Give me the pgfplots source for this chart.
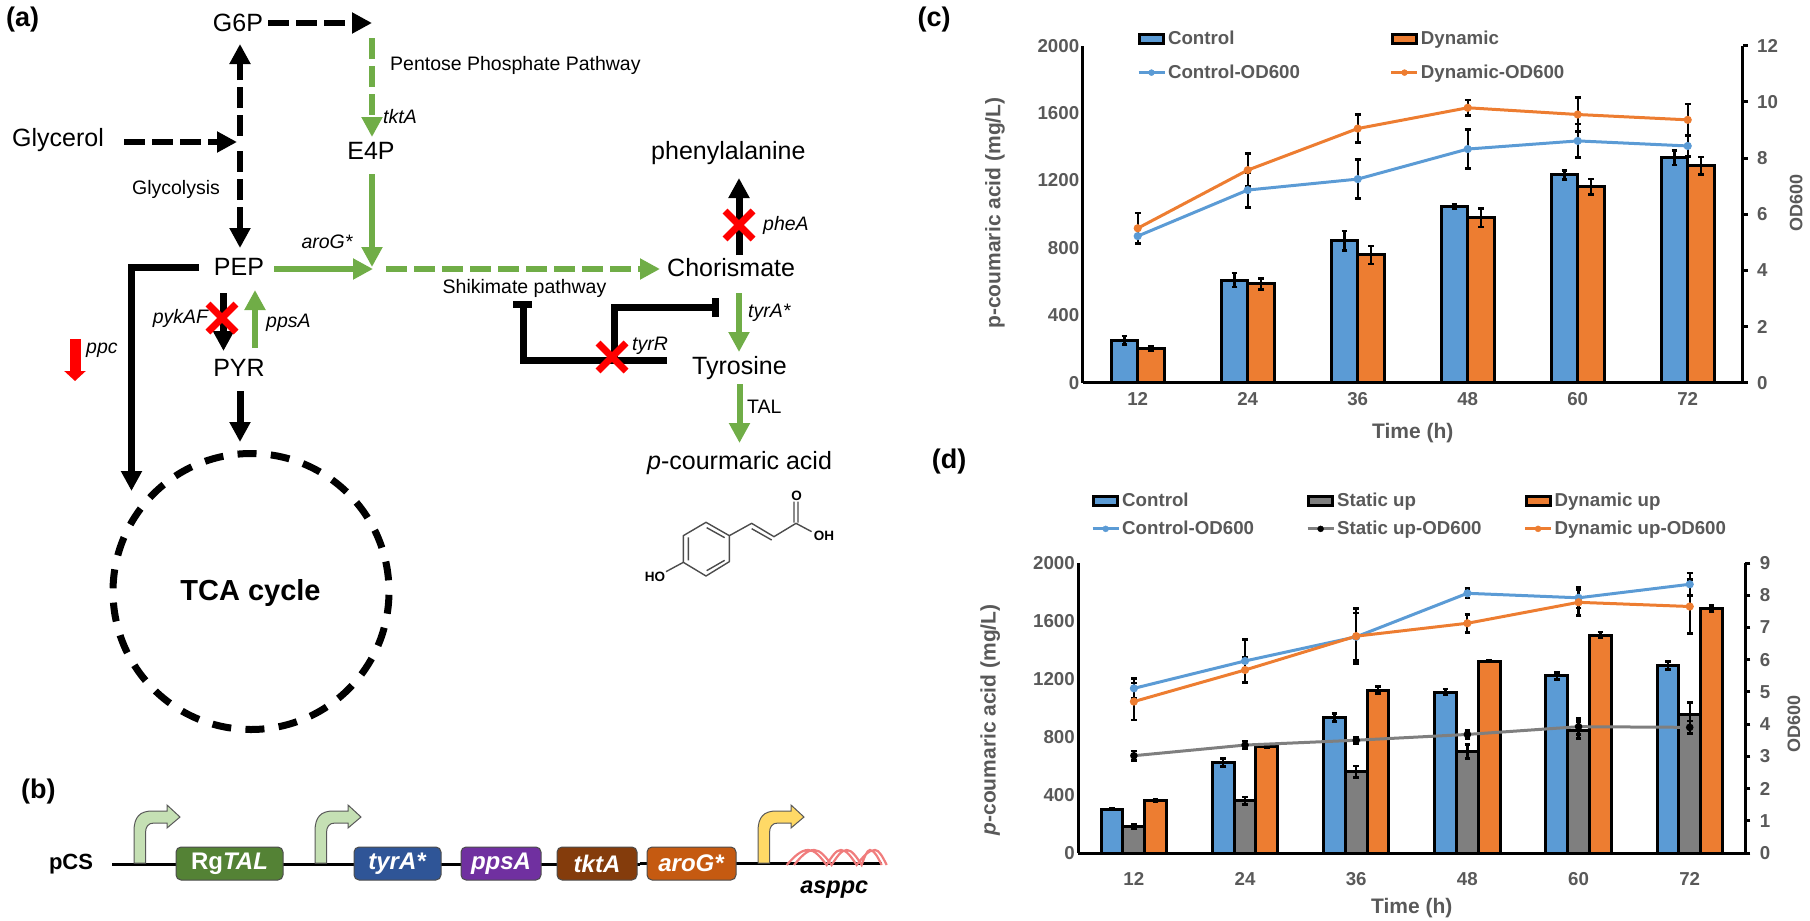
\documentclass[border=0pt]{standalone}
\usepackage{fontspec}
\setmainfont{Liberation Sans}
\usepackage{pgfplots}
\usepackage{pgfplotstable}
\pgfplotsset{compat=1.18}
\usetikzlibrary{arrows.meta}

\definecolor{ctl}{HTML}{5B9BD5}
\definecolor{dyn}{HTML}{ED7D31}
\definecolor{stat}{HTML}{7F7F7F}
\definecolor{txt}{HTML}{595959}
\definecolor{pgreen}{HTML}{70AD47}
\definecolor{gtal}{HTML}{548235}
\definecolor{gtyr}{HTML}{2F5597}
\definecolor{gpps}{HTML}{7030A0}
\definecolor{gtkt}{HTML}{843C0C}
\definecolor{garo}{HTML}{C55A11}
\definecolor{plight}{HTML}{C5E0B4}
\definecolor{pyell}{HTML}{FFD966}
\definecolor{dna}{HTML}{F07C7C}

\newcommand\fa{\fontsize{25}{28}\selectfont}
\newcommand\fb{\fontsize{19.5}{22}\selectfont}
\newcommand\fc{\fontsize{18.7}{22}\selectfont\bfseries}
\newcommand\fl{\fontsize{21}{24}\selectfont\bfseries}

% panel (c): time point, titer and sd, OD600 and sd
\pgfplotstableread{
x ctl ctle dyn dyne ctlod ctlode dynod dynode
0 253 25 204 15 5.22 0.24 5.50 0.55
1 609 42 586 33 6.86 0.62 7.57 0.59
2 843 57 758 53 7.25 0.69 9.05 0.49
3 1045 15 979 54 8.32 0.70 9.79 0.28
4 1233 27 1163 46 8.61 0.60 9.55 0.60
5 1335 43 1288 52 8.43 0.37 9.36 0.56
}\cdata

% panel (d)
\pgfplotstableread{
x ctl ctle sta stae dyn dyne ctlod ctlode staod staode dynod dynode
0 301 5 186 15 365 8 5.11 0.31 3.02 0.15 4.70 0.57
1 625 28 361 25 738 10 5.96 0.67 3.35 0.12 5.68 0.39
2 936 28 561 40 1124 24 6.71 0.74 3.50 0.10 6.73 0.85
3 1110 20 699 48 1324 8 8.06 0.14 3.68 0.13 7.13 0.28
4 1221 24 848 60 1503 20 7.92 0.32 3.92 0.25 7.78 0.40
5 1294 28 956 83 1687 20 8.34 0.35 3.90 0.20 7.65 0.83
}\ddata

\pgfplotsset{
  base/.style={
    scale only axis, clip=false, anchor=south west,
    xmin=-0.5, xmax=5.5, ymin=0,
    xtick={0,...,5}, xticklabels={12,24,36,48,60,72},
    major tick length=0pt,
    axis line style={black, line width=3pt},
    every tick/.style={black, line width=3pt},
    tick label style={font=\fc, text=txt, /pgf/number format/assume math mode=true, /pgf/number format/1000 sep={}},
    label style={font=\fl, text=txt},
    scaled y ticks=false,
    xticklabel style={yshift=-6pt},
  },
  rightax/.style={
    axis y line*=right, axis x line=none,
    major tick length=5pt, tick align=outside,
    yticklabel style={xshift=6pt},
    label style={font=\fontsize{18}{20}\selectfont\bfseries, text=txt},
  },
  barerr/.style={error bars/.cd, y dir=both, y explicit, error mark=|,
    error bar style={black, line width=2.4pt},
    error mark options={black, solid, mark size=2.8pt, line width=2.6pt}},
  lineerr/.style={error bars/.cd, y dir=both, y explicit, error mark=|,
    error bar style={black, line width=2.2pt},
    error mark options={black, solid, mark size=2.8pt, line width=2.6pt}},
  swatch/.style={legend image code/.code={
    \draw[draw=black, line width=3pt, fill=#1] (0pt,-4.5pt) rectangle (24pt,4.5pt);}},
  lineimg/.style 2 args={legend image code/.code={
    \draw[draw=#1, line width=3pt] (-1pt,0pt) -- (25pt,0pt);
    \fill[#2] (12pt,0pt) circle (3pt);}},
}

\tikzset{
  ar/.style={line width=6pt, -{Triangle[length=20pt,width=20pt]}},
  bk/.style={line width=7pt, line cap=butt},
  dsh/.style={dash pattern=on 21pt off 7pt},
  lab/.style={inner sep=0pt, text=black},
}

\newcommand\redx[2]{\begin{scope}[shift={(#1,#2)}]
  \draw[red, line width=7pt] (-14,-14) -- (14,14) (-14,14) -- (14,-14);
\end{scope}}

\newcommand\promoter[3]{\begin{scope}[shift={(#1,#2)}]
  \draw[fill=#3, draw=black!65, line width=1pt] (0,0) -- (0,-32)
    .. controls (0,-46) and (6,-52) .. (18,-52) -- (33,-52) -- (33,-58)
    -- (46,-46) -- (33,-35) -- (33,-40) -- (20,-40)
    .. controls (14,-40) and (11.5,-36) .. (11.5,-30) -- (11.5,0) -- cycle;
\end{scope}}

\newcommand\gene[4]{\draw[fill=#3, draw=black!70, line width=1pt, rounded corners=5pt]
  (#1,847) rectangle (#2,880);
  \node[lab, text=white, font=\fontsize{24}{26}\selectfont\bfseries] at ({(#1+#2)/2},863.5) {#4};}

\begin{document}
\begin{tikzpicture}
\path[use as bounding box] (0pt,0pt) rectangle (1810pt,-921pt);

% pathway, panel (a), coordinates are image pixels
\begin{scope}[x=1pt,y=-1pt]
\node[lab, anchor=west, font=\fontsize{27}{30}\selectfont\bfseries] at (6,20) {(a)};
\node[lab, font=\fa] at (238,23) {G6P};
\node[lab, font=\fa] at (371,151) {E4P};
\node[lab, font=\fa] at (58,140) {Glycerol};
\node[lab, font=\fa] at (239,267) {PEP};
\node[lab, font=\fa] at (239,368) {PYR};
\node[lab, anchor=west, font=\fa] at (651,153) {phenylalanine};
\node[lab, anchor=west, font=\fa] at (667,268) {Chorismate};
\node[lab, anchor=west, font=\fa] at (692,368) {Tyrosine};
\node[lab, anchor=west, font=\fa] at (647,463) {\textit{p}-courmaric acid};
\node[lab, font=\fb] at (176,189) {Glycolysis};
\node[lab, anchor=west, font=\fb] at (390,65) {Pentose Phosphate Pathway};
\node[lab, font=\fb] at (524.5,288) {Shikimate pathway};
\node[lab, anchor=west, font=\fb] at (747,407) {TAL};
\node[lab, anchor=west, font=\fb\itshape] at (383,117) {tktA};
\node[lab, font=\fb\itshape] at (327,242) {aroG*};
\node[lab, font=\fb\itshape] at (180.5,318) {pykAF};
\node[lab, anchor=west, font=\fb\itshape] at (266,323) {ppsA};
\node[lab, anchor=west, font=\fb\itshape] at (86,350) {ppc};
\node[lab, anchor=west, font=\fb\itshape] at (632,346) {tyrR};
\node[lab, anchor=west, font=\fb\itshape] at (763,225) {pheA};
\node[lab, anchor=west, font=\fb\itshape] at (748,313) {tyrA*};
\node[lab, font=\fontsize{29}{32}\selectfont\bfseries] at (250.5,592.5) {TCA cycle};

% black dashed
\draw[ar, dsh] (268,23) -- (372,23);
\draw[ar, dsh] (240,136) -- (240,44);
\draw[ar, dsh] (240,151) -- (240,248);
\draw[ar, dsh] (124,142) -- (237,142);
% green
\draw[ar, dsh, pgreen] (372,38) -- (372,137);
\draw[ar, pgreen] (372,174) -- (372,267);
\draw[ar, pgreen] (274,269) -- (373,269);
\draw[ar, dsh, pgreen] (386,269) -- (660,269);
\draw[ar, pgreen] (255,348) -- (255,290);
\draw[ar, pgreen] (739,293) -- (739,352);
\draw[ar, pgreen] (739.5,384) -- (739.5,443);
% black solid
\draw[ar, bk] (223.5,293) -- (223.5,351);
\draw[ar, bk] (240,391) -- (240,442);
\draw[ar, bk] (739,255) -- (739,178);
\draw[bk, -{Triangle[length=20pt,width=20pt]}] (199,267) -- (131.5,267) -- (131.5,491);
% red ppc arrow
\draw[red, line width=11pt, -{Triangle[length=10pt,width=21pt]}] (75,339) -- (75,381);
% repression bars
\draw[bk] (667,360) -- (523.5,360) -- (523.5,304);
\draw[bk] (513,304) -- (532,304);
\draw[bk] (614.5,360) -- (614.5,307) -- (715,307);
\draw[bk] (715,298) -- (715,317);
\redx{222}{318}
\redx{739}{225}
\redx{612}{357}
% TCA cycle
\draw[black, line width=7pt, dash pattern=on 19pt off 14.35pt, dash phase=22.18pt] (251,591.5) circle [radius=138pt];

% p-coumaric acid structure, zoom units
\begin{scope}[shift={(640,480)}, x=0.3333pt, y=-0.3333pt]
  \draw[black!70, line width=1.4pt, line join=round]
    (198,127) -- (268,167) -- (268,245) -- (198,288) -- (130,247) -- (130,167) -- cycle
    (268,167) -- (335,130) -- (402,170) -- (468,130) -- (515,155)
    (130,247) -- (78,275)
    (200,143) -- (254,173) (145,172) -- (145,241) (200,272) -- (254,241)
    (335,146) -- (395,180)
    (462,128) -- (462,65) (474,128) -- (474,65);
  \node[lab, font=\fontsize{13.5}{15}\selectfont\bfseries] at (470,47) {O};
  \node[lab, font=\fontsize{13.5}{15}\selectfont\bfseries] at (552,168) {OH};
  \node[lab, font=\fontsize{13.5}{15}\selectfont\bfseries] at (45,290) {HO};
  % ds-DNA strands at asppc
  \draw[black, line width=3pt] (0,1152) -- (725,1152);
  \draw[dna, line width=2.2pt]
    (440,1155) sin (505,1110) cos (560,1155) sin (603,1110) cos (650,1155) sin (705,1110) cos (740,1155)
    (462,1155) sin (522,1110) cos (575,1155) sin (620,1110) cos (665,1155) sin (690,1110) cos (725,1155);
  \node[lab, font=\fontsize{23.5}{26}\selectfont\bfseries\itshape] at (583,1228) {asppc};
\end{scope}

% plasmid, panel (b)
\node[lab, anchor=west, font=\fontsize{27}{30}\selectfont\bfseries] at (21,792) {(b)};
\node[lab, font=\fontsize{22}{24}\selectfont\bfseries] at (71,864) {pCS};
\draw[black, line width=3pt] (112,864) -- (640,864);
\promoter{134}{863}{plight}
\promoter{315}{863}{plight}
\promoter{758}{863}{pyell}
\gene{176}{283}{gtal}{Rg\textit{TAL}}
\gene{354}{441}{gtyr}{\textit{tyrA*}}
\gene{461}{541}{gpps}{\textit{ppsA}}
\gene{557}{637}{gtkt}{\textit{tktA}}
\gene{647}{736}{garo}{\textit{aroG*}}

\node[lab, font=\fontsize{27}{30}\selectfont\bfseries] at (934,20) {(c)};
\node[lab, font=\fontsize{27}{30}\selectfont\bfseries] at (949,462) {(d)};
\end{scope}

% panel (c)
\begin{axis}[base, at={(1082.7pt,-382.7pt)}, width=660pt, height=337pt,
  axis y line*=left, axis x line*=bottom, ymax=2000, ytick={0,400,...,2000},
  ybar=0pt, bar width=26.5pt, xlabel={Time (h)}, ylabel={p-coumaric acid (mg/L)},
  xlabel style={at={(axis description cs:0.5,-0.148)}, anchor=center},
  ylabel style={at={(axis description cs:-0.133,0.5036)}, anchor=center}]
\addplot[draw=black, line width=3pt, fill=ctl, barerr] table[x=x,y=ctl,y error=ctle]{\cdata};
\addplot[draw=black, line width=3pt, fill=dyn, barerr] table[x=x,y=dyn,y error=dyne]{\cdata};
\end{axis}
\begin{axis}[base, rightax, at={(1082.7pt,-382.7pt)}, width=660pt, height=337pt,
  ymax=12, ytick={0,2,...,12}, ylabel={OD600},
  ylabel style={at={(axis description cs:1.081,0.533)}, anchor=center},
  legend columns=2,
  legend style={at={(axis description cs:0.082,1.05)}, anchor=north west, draw=none, fill=none,
    inner sep=0pt, font=\fc, text=txt, row sep=15pt, cells={anchor=west},
    /tikz/every even column/.append style={column sep=88pt}}]
\addlegendimage{swatch=ctl}\addlegendentry{Control}
\addlegendimage{swatch=dyn}\addlegendentry{Dynamic}
\addlegendimage{lineimg={ctl}{ctl}}\addlegendentry{Control-OD600}
\addlegendimage{lineimg={dyn}{dyn}}\addlegendentry{Dynamic-OD600}
\addplot[ctl, line width=3pt, mark=*, mark size=2.5pt, lineerr] table[x=x,y=ctlod,y error=ctlode]{\cdata};
\addplot[dyn, line width=3pt, mark=*, mark size=2.5pt, lineerr] table[x=x,y=dynod,y error=dynode]{\cdata};
\end{axis}

% panel (d)
\begin{axis}[base, at={(1078.3pt,-853pt)}, width=667pt, height=290pt,
  axis y line*=left, axis x line*=bottom, ymax=2000, ytick={0,400,...,2000},
  xticklabel style={yshift=-10pt},
  ybar=0pt, bar width=21.8pt, xlabel={Time (h)}, ylabel={\textit{p}-coumaric acid (mg/L)},
  xlabel style={at={(axis description cs:0.5,-0.19)}, anchor=center},
  ylabel style={at={(axis description cs:-0.132,0.459)}, anchor=center}]
\addplot[draw=black, line width=3pt, fill=ctl, barerr] table[x=x,y=ctl,y error=ctle]{\ddata};
\addplot[draw=black, line width=3pt, fill=stat, barerr] table[x=x,y=sta,y error=stae]{\ddata};
\addplot[draw=black, line width=3pt, fill=dyn, barerr] table[x=x,y=dyn,y error=dyne]{\ddata};
\end{axis}
\begin{axis}[base, rightax, at={(1078.3pt,-853pt)}, width=667pt, height=290pt,
  ymax=9, ytick={0,1,...,9}, ylabel={OD600},
  ylabel style={at={(axis description cs:1.073,0.445)}, anchor=center},
  legend columns=3,
  legend style={at={(axis description cs:0.019,1.248)}, anchor=north west, draw=none, fill=none,
    inner sep=0pt, font=\fc, text=txt, row sep=9pt, cells={anchor=west},
    /tikz/column 2/.style={column sep=50pt}, /tikz/column 4/.style={column sep=40pt}}]
\addlegendimage{swatch=ctl}\addlegendentry{Control}
\addlegendimage{swatch=stat}\addlegendentry{Static up}
\addlegendimage{swatch=dyn}\addlegendentry{Dynamic up}
\addlegendimage{lineimg={ctl}{ctl}}\addlegendentry{Control-OD600}
\addlegendimage{lineimg={stat}{black}}\addlegendentry{Static up-OD600}
\addlegendimage{lineimg={dyn}{dyn}}\addlegendentry{Dynamic up-OD600}
\addplot[ctl, line width=3pt, mark=*, mark size=2.5pt, lineerr] table[x=x,y=ctlod,y error=ctlode]{\ddata};
\addplot[stat, line width=3pt, mark=*, mark size=2.2pt, mark options={fill=black, draw=black}, lineerr] table[x=x,y=staod,y error=staode]{\ddata};
\addplot[dyn, line width=3pt, mark=*, mark size=2.5pt, lineerr] table[x=x,y=dynod,y error=dynode]{\ddata};
\end{axis}
\end{tikzpicture}
\end{document}
